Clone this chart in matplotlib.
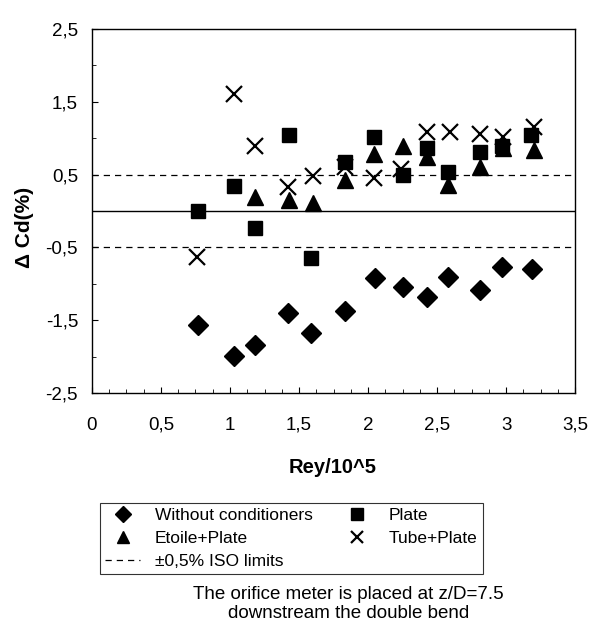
import matplotlib
matplotlib.use('Agg')
import matplotlib.pyplot as plt
from matplotlib.ticker import MultipleLocator, FuncFormatter

plt.rcParams['font.family'] = ['Liberation Sans', 'DejaVu Sans']

# Rey/10^5 and delta Cd (%)
rey_none = [0.77, 1.03, 1.18, 1.42, 1.59, 1.83, 2.05, 2.25, 2.43, 2.58, 2.81, 2.97, 3.19]
cd_none = [-1.57, -1.99, -1.84, -1.40, -1.68, -1.37, -0.92, -1.04, -1.18, -0.90, -1.08, -0.77, -0.79]

rey_plate = [0.77, 1.03, 1.18, 1.43, 1.59, 1.83, 2.04, 2.25, 2.43, 2.58, 2.81, 2.97, 3.18]
cd_plate = [0.00, 0.35, -0.23, 1.04, -0.65, 0.68, 1.02, 0.49, 0.86, 0.54, 0.81, 0.90, 1.04]

rey_etoile = [1.18, 1.43, 1.60, 1.83, 2.04, 2.25, 2.43, 2.58, 2.81, 2.98, 3.20]
cd_etoile = [0.20, 0.15, 0.11, 0.42, 0.79, 0.90, 0.74, 0.36, 0.61, 0.86, 0.84]

rey_tube = [0.76, 1.03, 1.18, 1.42, 1.60, 1.83, 2.04, 2.24, 2.43, 2.59, 2.81, 2.98, 3.20]
cd_tube = [-0.63, 1.61, 0.89, 0.33, 0.48, 0.60, 0.46, 0.58, 1.09, 1.09, 1.06, 1.02, 1.15]

iso_limit = 0.5

fig = plt.figure(figsize=(5.93, 6.31), dpi=100)
ax = fig.add_axes([0.155, 0.377, 0.815, 0.577])

ax.axhline(0, color='black', lw=1.0)
ax.axhline(iso_limit, color='black', lw=0.9, ls=(0, (5, 4)))
iso = ax.axhline(-iso_limit, color='black', lw=0.9, ls=(0, (5, 4)),
                 label='±0,5% ISO limits')

h_none, = ax.plot(rey_none, cd_none, 'kD', ms=10, ls='none', label='Without conditioners')
h_etoile, = ax.plot(rey_etoile, cd_etoile, 'k^', ms=12, ls='none', label='Etoile+Plate')
h_plate, = ax.plot(rey_plate, cd_plate, 'ks', ms=10.5, ls='none', label='Plate')
h_tube, = ax.plot(rey_tube, cd_tube, 'kx', ms=12, mew=1.6, ls='none', label='Tube+Plate')

ax.set_xlim(0, 3.5)
ax.set_ylim(-2.5, 2.5)
ax.xaxis.set_major_locator(MultipleLocator(0.5))
ax.xaxis.set_minor_locator(MultipleLocator(0.125))
ax.yaxis.set_minor_locator(MultipleLocator(0.5))
ax.set_yticks([2.5, 1.5, 0.5, -0.5, -1.5, -2.5])

comma = FuncFormatter(lambda v, p: ('%g' % v).replace('.', ','))
ax.xaxis.set_major_formatter(comma)
ax.yaxis.set_major_formatter(comma)

ax.tick_params(which='both', direction='in', labelsize=13.5)
ax.tick_params(which='major', length=4, width=0.8)
ax.tick_params(which='minor', length=3, width=0.6)
ax.tick_params(axis='x', pad=17)
ax.tick_params(axis='y', pad=10)
for s in ax.spines.values():
    s.set_linewidth(1.0)

ax.set_xlabel('Rey/10^5', fontsize=14.5, fontweight='bold')
ax.xaxis.set_label_coords(0.499, -0.177)
ax.set_ylabel('Δ Cd(%)', fontsize=15, fontweight='bold')
ax.yaxis.set_label_coords(-0.12, 0.456)

leg = fig.legend([h_none, h_etoile, iso, h_plate, h_tube],
                 ['Without conditioners', 'Etoile+Plate', '±0,5% ISO limits', 'Plate', 'Tube+Plate'],
                 ncol=2, loc='upper left', bbox_to_anchor=(0.1686, 0.2029),
                 fontsize=12.5, frameon=True, fancybox=False, edgecolor='black',
                 borderpad=0.3, labelspacing=0.45, handlelength=2.0,
                 handletextpad=0.85, columnspacing=1.55, borderaxespad=0)
leg.get_frame().set_linewidth(0.8)
for h in leg.legend_handles[:2] + leg.legend_handles[3:]:
    h.set_markersize(8)

fig.text(0.588, 0.043, 'The orifice meter is placed at z/D=7.5\ndownstream the double bend',
         ha='center', va='center', fontsize=13.5, linespacing=1.1)

fig.savefig('out.png', dpi=100)
